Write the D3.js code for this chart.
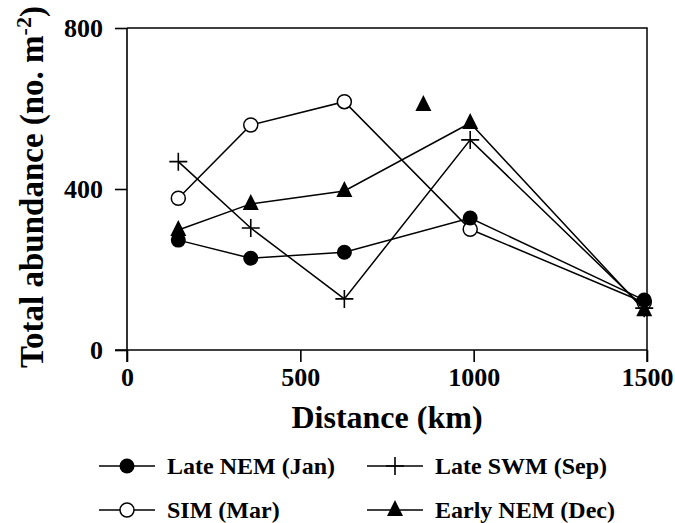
<!DOCTYPE html>
<meta charset="utf-8">
<style>
body { margin: 0; background: #fff; }
.line { fill: none; stroke: #000; stroke-width: 1.5; }
</style>
<svg id="svg" width="675" height="523"></svg>
<script src="https://d3js.org/d3.v7.min.js"></script>
<script>
// distance of stations (km)
var distance = [148, 357, 627, 990, 1492];
var lateNEM  = [273, 228, 243, 328, 124];
var sim      = [377, 559, 617, 300, 118];
var lateSWM  = [468, 303, 127, 522, 104];
var earlyNEM = [298, 363, 395, 564, 99];
// lone Early NEM point, not joined
var earlyNEMextra = [[855, 609]];

var xTicks = [0, 500, 1000, 1500];
var yTicks = [0, 400, 800];

var series = [
  {name: "Late NEM (Jan)", values: lateNEM, sym: "dot"},
  {name: "SIM (Mar)", values: sim, sym: "open"},
  {name: "Late SWM (Sep)", values: lateSWM, sym: "plus"},
  {name: "Early NEM (Dec)", values: earlyNEM, sym: "tri"}
];
// marker drawing order, open circles sit underneath
var drawOrder = [1, 2, 3, 0];

var serif = "Liberation Serif";

var svg = d3.select("svg");
var x = d3.scaleLinear().domain([0, 1500]).range([127, 647]);
var y = d3.scaleLinear().domain([0, 800]).range([350, 28]);

// frame
svg.append("path").attr("class", "line")
  .attr("d", "M" + x(0) + "," + y(800) + "H" + x(1500) + "V" + (y(0) + 12));

var xAxis = svg.append("g").attr("transform", "translate(0," + y(0) + ")")
  .call(d3.axisBottom(x).tickValues(xTicks).tickFormat(d3.format("d")).tickSize(12).tickSizeOuter(0).tickPadding(6));
xAxis.select(".domain").attr("d", "M" + (x(0) - 12) + ",0H" + x(1500));

var yAxis = svg.append("g").attr("transform", "translate(" + x(0) + ",0)")
  .call(d3.axisLeft(y).tickValues(yTicks).tickSize(12).tickSizeOuter(0).tickPadding(12));
yAxis.select(".domain").attr("d", "M0," + y(800) + "V" + (y(0) + 12));

[xAxis, yAxis].forEach(function(a) {
  a.attr("font-family", null).attr("font-size", null);
  a.selectAll("line, path").attr("stroke", "#000").attr("stroke-width", 1.6);
});

// axis titles
svg.append("text").attr("x", (x(0) + x(1500)) / 2).attr("y", 428)
  .attr("text-anchor", "middle").attr("font-size", 32).text("Distance (km)");

var yt = svg.append("text").attr("transform", "translate(43,187) rotate(-90)")
  .attr("text-anchor", "middle").attr("font-size", 33);
yt.append("tspan").text("Total abundance (no. m");
yt.append("tspan").attr("dy", -12).attr("font-size", 22).text("-2");
yt.append("tspan").attr("dy", 12).text(")");

var line = d3.line().x(function(d, i) { return x(distance[i]); }).y(function(d) { return y(d); });

function marker(g, sym, cx, cy) {
  if (sym == "dot") {
    g.append("circle").attr("cx", cx).attr("cy", cy).attr("r", 7.5).attr("fill", "#000");
  } else if (sym == "open") {
    g.append("circle").attr("cx", cx).attr("cy", cy).attr("r", 7).attr("fill", "#fff")
      .attr("stroke", "#000").attr("stroke-width", 1.5);
  } else if (sym == "plus") {
    g.append("path").attr("d", "M" + (cx - 9) + "," + cy + "H" + (cx + 9) + "M" + cx + "," + (cy - 9) + "V" + (cy + 9))
      .attr("stroke", "#000").attr("stroke-width", 1.6);
  } else {
    g.append("path").attr("d", "M" + cx + "," + (cy - 10) + "L" + (cx + 8) + "," + (cy + 6) + "L" + (cx - 8) + "," + (cy + 6) + "Z")
      .attr("fill", "#000");
  }
}

var plot = svg.append("g");
series.forEach(function(s) {
  plot.append("path").attr("class", "line").attr("d", line(s.values));
});
drawOrder.forEach(function(k) {
  var s = series[k];
  s.values.forEach(function(v, i) { marker(plot, s.sym, x(distance[i]), y(v)); });
});
earlyNEMextra.forEach(function(p) { marker(plot, "tri", x(p[0]), y(p[1])); });

// legend
var legendPos = [[99, 466], [99, 510], [367, 466], [367, 510]];
series.forEach(function(s, i) {
  var lx = legendPos[i][0], ly = legendPos[i][1];
  var g = svg.append("g");
  g.append("line").attr("x1", lx).attr("x2", lx + 56).attr("y1", ly).attr("y2", ly)
    .attr("stroke", "#000").attr("stroke-width", 1.6);
  marker(g, s.sym, lx + 28, ly);
  g.append("text").attr("x", lx + 68).attr("y", ly + 8).attr("font-size", 24).text(s.name);
});

// set the serif face on every text element directly
svg.selectAll("text")
  .attr("font-family", serif)
  .attr("font-weight", "bold")
  .attr("fill", "#000");
svg.selectAll(".tick text").attr("font-size", 26);
</script>
